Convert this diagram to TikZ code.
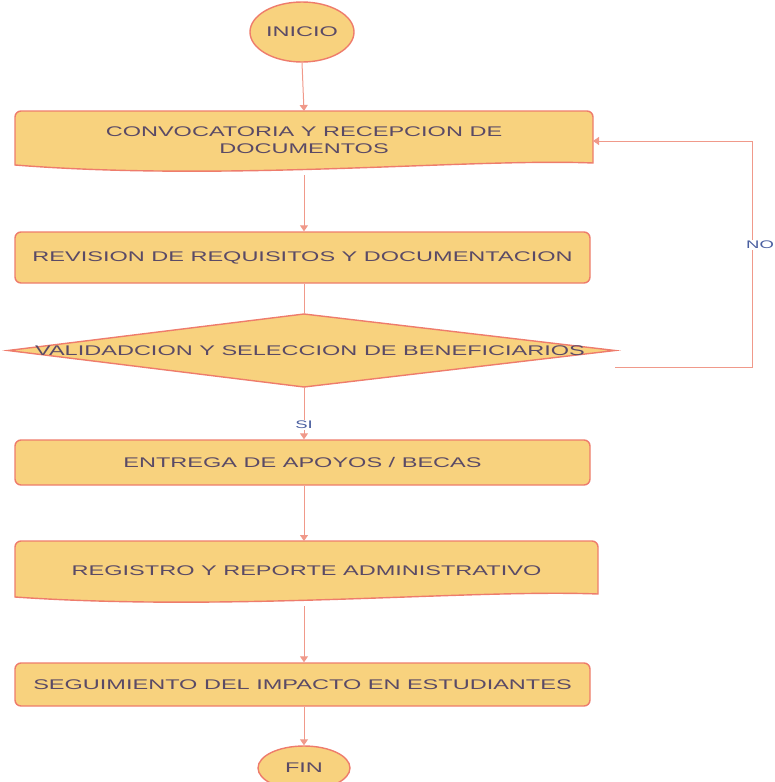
\documentclass[tikz,border=0pt]{standalone}
\usepackage{fontspec}
\setmainfont{Liberation Sans}[FakeStretch=1.68]
\usetikzlibrary{arrows.meta,shapes.geometric}
\definecolor{boxfill}{HTML}{F8D27E}
\definecolor{boxline}{HTML}{EE7C6C}
\definecolor{boxtext}{HTML}{5A4A66}
\definecolor{conn}{HTML}{F0998A}
\definecolor{lbl}{HTML}{4A5FA0}
\tikzset{
  shapeline/.style={draw=boxline, line width=1.4pt, fill=boxfill},
  txt/.style={text=boxtext, font=\fontsize{14}{17}\selectfont, align=center},
  rbox/.style={shapeline, rounded corners=6pt, txt, minimum width=575pt, inner sep=0pt},
  docbox/.style={txt, minimum width=578pt, inner sep=0pt},
  term/.style={shapeline, ellipse, txt, inner sep=0pt},
  conn/.style={draw=conn, line width=1pt},
  arr/.style={conn, -{Triangle[length=6pt,width=8pt]}},
  lab/.style={text=lbl, font=\fontsize{11}{13}\selectfont, fill=white, inner sep=1pt}
}
\begin{document}
\begin{tikzpicture}[x=1pt,y=-1pt]
\useasboundingbox (0,0) rectangle (775,782);
% INICIO
\node[term, minimum width=104pt, minimum height=60pt] (ini) at (302,32) {INICIO};
% Box 1 (document)
\draw[shapeline] (15,165) [rounded corners=6pt] -- (15,111) -- (593,111) -- (593,140) [sharp corners] -- (593,163)
  .. controls (470,158) and (230,182) .. (15,165) -- cycle;
\node[docbox, minimum height=59pt] (b1) at (304,140.5) {CONVOCATORIA Y RECEPCION DE\\DOCUMENTOS};
% Box 2
\node[rbox, minimum height=51pt] (b2) at (302.5,257.5) {REVISION DE REQUISITOS Y DOCUMENTACION};
% Diamond
\node[inner sep=0pt, minimum width=607pt, minimum height=73pt] (d) at (311.5,350.5) {};
\draw[shapeline] (304,314) -- (615,350.5) -- (304,387) -- (8,350.5) -- cycle;
\node[txt] (dt) at (310,351) {VALIDADCION Y SELECCION DE BENEFICIARIOS};
% Box 3
\node[rbox, minimum height=45pt] (b3) at (302.5,462.5) {ENTREGA DE APOYOS / BECAS};
% Box 4 (document)
\draw[shapeline] (15,597) [rounded corners=6pt] -- (15,541) -- (598,541) -- (598,570) [sharp corners] -- (598,594)
  .. controls (470,589) and (230,612) .. (15,597) -- cycle;
\node[docbox, minimum height=60pt] (b4) at (306.5,570.5) {REGISTRO Y REPORTE ADMINISTRATIVO};
% Box 5
\node[rbox, minimum height=43pt] (b5) at (302.5,684.5) {SEGUIMIENTO DEL IMPACTO EN ESTUDIANTES};
% FIN
\node[term, minimum width=92pt, minimum height=44pt] (fin) at (304,768) {FIN};
% connectors
\draw[arr] (ini.south) -- (304,111);
\draw[arr] (304,175) -- (b2.north -| 304,0);
\draw[conn] (b2.south -| 304,0) -- (304,314);
\draw[arr] (304,387) -- node[lab, pos=0.72] (si) {SI} (b3.north -| 304,0);
\draw[arr] (b3.south -| 304,0) -- (304,541);
\draw[arr] (304,606) -- (b5.north -| 304,0);
\draw[arr] (b5.south -| 304,0) -- (fin.north);
% NO loop
\coordinate (n1) at (615,367);
\coordinate (n2) at (752,367);
\coordinate (n3) at (752,141);
\coordinate (n4) at (593,141);
\draw[arr] (n1) -- (n2) -- (n3) -- (n4);
\node[lab, anchor=west] (no) at (745,245) {NO};
\end{tikzpicture}
\end{document}
